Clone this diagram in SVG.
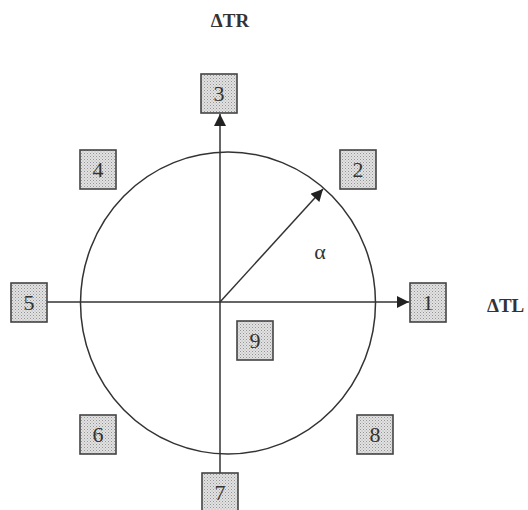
<svg xmlns="http://www.w3.org/2000/svg" width="528" height="510" viewBox="0 0 528 510">
<style>
.box rect{fill:url(#dots);stroke:#444;stroke-width:1.6}
.box text{font-family:"Liberation Serif",serif;font-size:22px;fill:#333;text-anchor:middle}
.lbl{font-family:"Liberation Serif",serif;font-weight:bold;font-size:19px;fill:#333}
.ln{stroke:#333;stroke-width:1.5;fill:none}
</style>
<defs>
<pattern id="dots" width="3" height="3" patternUnits="userSpaceOnUse">
<rect width="3" height="3" fill="#e2e2e2"/>
<rect x="0" y="0" width="1" height="1" fill="#949494"/>
<rect x="1.5" y="1.5" width="1" height="1" fill="#aaaaaa"/>
</pattern>
<marker id="ah" viewBox="0 0 10 10" refX="10" refY="5" markerWidth="13" markerHeight="12" markerUnits="userSpaceOnUse" orient="auto">
<path d="M0,0 L10,5 L0,10 z" fill="#222"/>
</marker>
</defs>
<rect width="528" height="510" fill="#fff"/>
<g id="connectors">
<ellipse class="ln" cx="228" cy="303" rx="147.5" ry="151"/>
<line class="ln" x1="47" y1="302" x2="409" y2="302" marker-end="url(#ah)"/>
<line class="ln" x1="220" y1="473" x2="220" y2="114" marker-end="url(#ah)"/>
<line class="ln" x1="220" y1="302" x2="323" y2="189" marker-end="url(#ah)"/>
</g>
<text class="lbl" x="230" y="27" text-anchor="middle">ΔTR</text>
<text class="lbl" x="487" y="312">ΔTL</text>
<text x="320" y="259" font-family="Liberation Serif,serif" font-size="22" fill="#333" text-anchor="middle">α</text>
<g id="n1" class="box"><rect x="410" y="283" width="36" height="39"/><text x="428" y="310">1</text></g>
<g id="n2" class="box"><rect x="340" y="150" width="36" height="39"/><text x="358" y="177">2</text></g>
<g id="n3" class="box"><rect x="201" y="74" width="36" height="39"/><text x="219" y="101">3</text></g>
<g id="n4" class="box"><rect x="80" y="150" width="36" height="39"/><text x="98" y="177">4</text></g>
<g id="n5" class="box"><rect x="11" y="283" width="36" height="39"/><text x="29" y="310">5</text></g>
<g id="n6" class="box"><rect x="80" y="415" width="36" height="39"/><text x="98" y="442">6</text></g>
<g id="n7" class="box"><rect x="202" y="473" width="36" height="39"/><text x="220" y="500">7</text></g>
<g id="n8" class="box"><rect x="357" y="415" width="36" height="39"/><text x="375" y="442">8</text></g>
<g id="n9" class="box"><rect x="237" y="321" width="36" height="39"/><text x="255" y="348">9</text></g>
</svg>
